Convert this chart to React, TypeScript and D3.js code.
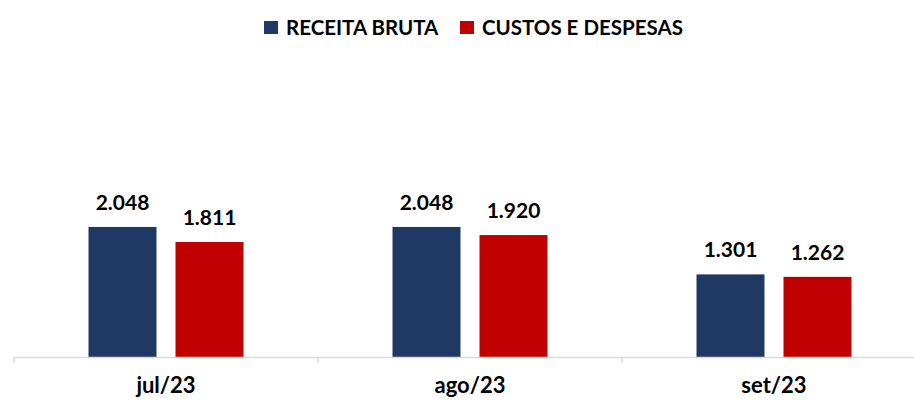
import React, { useEffect, useRef } from 'react';
import * as d3 from 'd3';

const months = ['jul/23', 'ago/23', 'set/23'];
const receitaBruta = [2048, 2048, 1301];
const custosDespesas = [1811, 1920, 1262];
const seriesNames = ['RECEITA BRUTA', 'CUSTOS E DESPESAS'];
const seriesColors = ['#203864', '#C00000'];

const fmt = (v: number) => d3.format(',')(v).replace(/,/g, '.');

const App = () => {
    const svgRef = useRef<SVGSVGElement>(null);

    useEffect(() => {
        const width = 914;
        const height = 401;
        const font = 'Lato, "Open Sans", sans-serif';

        const svg = d3.select(svgRef.current)
            .attr('width', width)
            .attr('height', height)
            .style('display', 'block');
        svg.selectAll('*').remove();

        const groupW = 155;
        const x0 = d3.scaleBand().domain(months).range([14, 926]);
        const x1 = d3.scaleBand().domain(seriesNames).range([0, groupW]).paddingInner(19 / 87);
        const y = d3.scaleLinear().domain([0, 5000]).range([357, 39.5]);

        const values = [receitaBruta, custosDespesas];

        // bars + labels
        seriesNames.forEach((name, si) => {
            const g = svg.append('g');
            g.selectAll('rect')
                .data(values[si])
                .enter().append('rect')
                .attr('x', (d, i) => x0(months[i])! + (x0.bandwidth() - groupW) / 2 + x1(name)!)
                .attr('y', d => y(d))
                .attr('width', x1.bandwidth())
                .attr('height', d => y(0) - y(d))
                .attr('fill', seriesColors[si]);
            g.selectAll('text')
                .data(values[si])
                .enter().append('text')
                .attr('x', (d, i) => x0(months[i])! + (x0.bandwidth() - groupW) / 2 + x1(name)! + x1.bandwidth() / 2)
                .attr('y', d => y(d) - 17)
                .attr('text-anchor', 'middle')
                .style('font-family', font)
                .style('font-weight', 'bold')
                .style('font-size', '21px')
                .attr('fill', '#000')
                .text(d => fmt(d));
        });

        // axis
        const axis = svg.append('g').attr('stroke', '#d9d9d9').attr('stroke-width', 1.5);
        axis.append('line')
            .attr('x1', 14).attr('x2', 926)
            .attr('y1', 357.5).attr('y2', 357.5);
        const tickXs = months.map(m => x0(m)!).concat([x0.range()[1]]);
        axis.selectAll('.tick')
            .data(tickXs)
            .enter().append('line')
            .attr('x1', d => d).attr('x2', d => d)
            .attr('y1', 357.5).attr('y2', 363);

        svg.append('g').selectAll('text')
            .data(months)
            .enter().append('text')
            .attr('x', d => x0(d)! + x0.bandwidth() / 2)
            .attr('y', 393)
            .attr('text-anchor', 'middle')
            .style('font-family', font)
            .style('font-weight', 'bold')
            .style('font-size', '22px')
            .attr('fill', '#000')
            .text(d => d);

        // legend
        const legendX = [264, 460];
        const legend = svg.append('g');
        seriesNames.forEach((name, i) => {
            legend.append('rect')
                .attr('x', legendX[i]).attr('y', 21)
                .attr('width', 14).attr('height', 13)
                .attr('fill', seriesColors[i]);
            legend.append('text')
                .attr('x', legendX[i] + 22)
                .attr('y', 35)
                .style('font-family', font)
                .style('font-weight', 'bold')
                .style('font-size', '20.5px')
                .attr('fill', '#000')
                .text(name);
        });
    }, []);

    return (
        <div style={{ position: 'absolute', left: 0, top: 0 }}>
            <svg ref={svgRef}></svg>
        </div>
    );
};

export default App;
